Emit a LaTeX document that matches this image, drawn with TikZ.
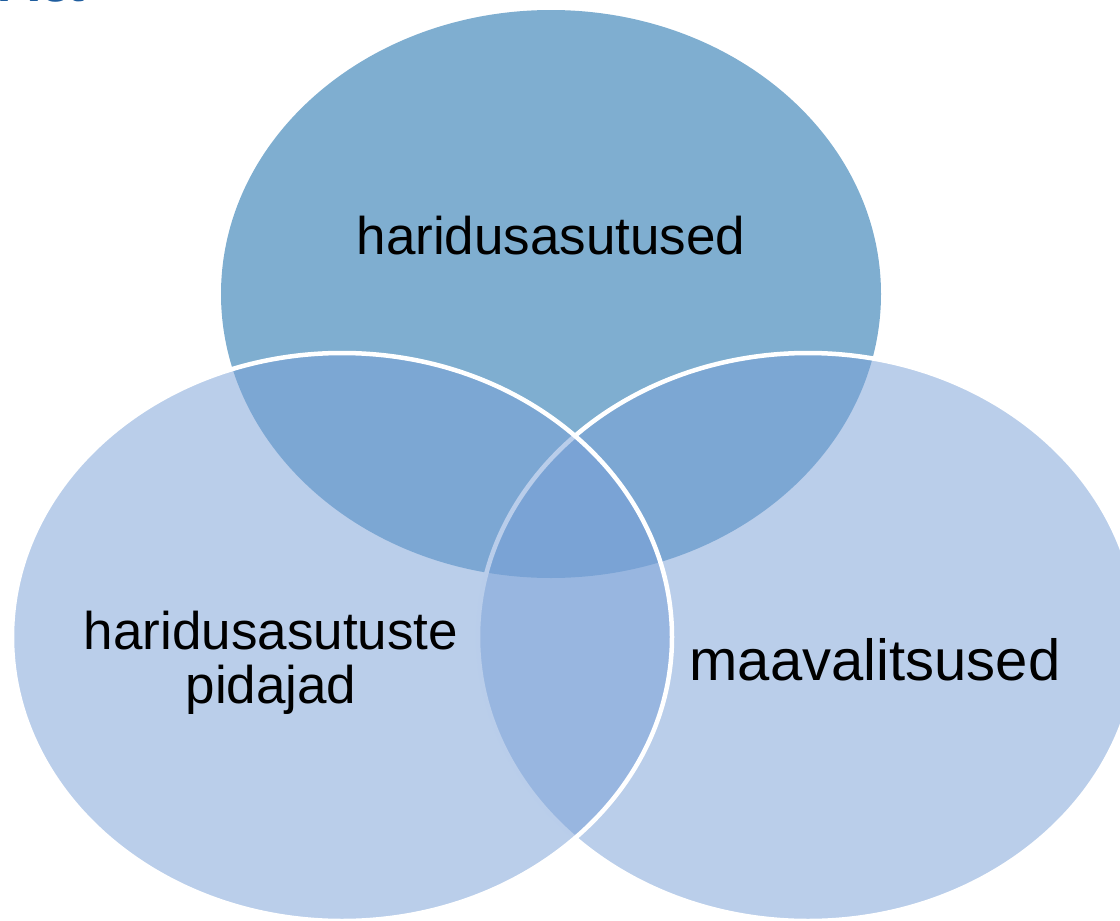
\documentclass[tikz,border=0pt]{standalone}
\usepackage{fontspec}
\setmainfont{Liberation Sans}
\usetikzlibrary{shapes.geometric}
\definecolor{topblue}{RGB}{127,174,208}
\definecolor{lowblue}{RGB}{122,161,215}
\definecolor{titleblue}{RGB}{31,93,158}
\tikzset{
  venn/.style={ellipse, minimum width=660pt, minimum height=568pt, inner sep=0pt},
  topset/.style={venn, fill=topblue},
  lowset/.style={venn, fill=lowblue, fill opacity=0.52, draw=white, line width=4.5pt},
  label/.style={inner sep=0pt, text=black, font=\fontsize{53}{54}\selectfont, align=center},
  biglabel/.style={label, font=\fontsize{58}{60}\selectfont}
}
\begin{document}
\begin{tikzpicture}[x=1pt,y=-1pt]
\useasboundingbox (0,0) rectangle (1120,921);
\begin{scope}
\clip (0,0) rectangle (1120,921);
\node[anchor=base east, inner sep=0pt, text=titleblue, font=\fontsize{80}{80}\selectfont] (title) at (84,1) {xa};
\node[topset] (top) at (551,294) {};
\node[lowset] (right) at (808,637) {};
\node[lowset] (left) at (342,637) {};
\end{scope}
\node[label, anchor=base] (tlabel) at (551,254) {haridusasutused};
\node[label] (llabel) at (271,663) {haridusasutuste\\pidajad};
\node[biglabel, anchor=base] (rlabel) at (875,680) {maavalitsused};
\end{tikzpicture}
\end{document}
